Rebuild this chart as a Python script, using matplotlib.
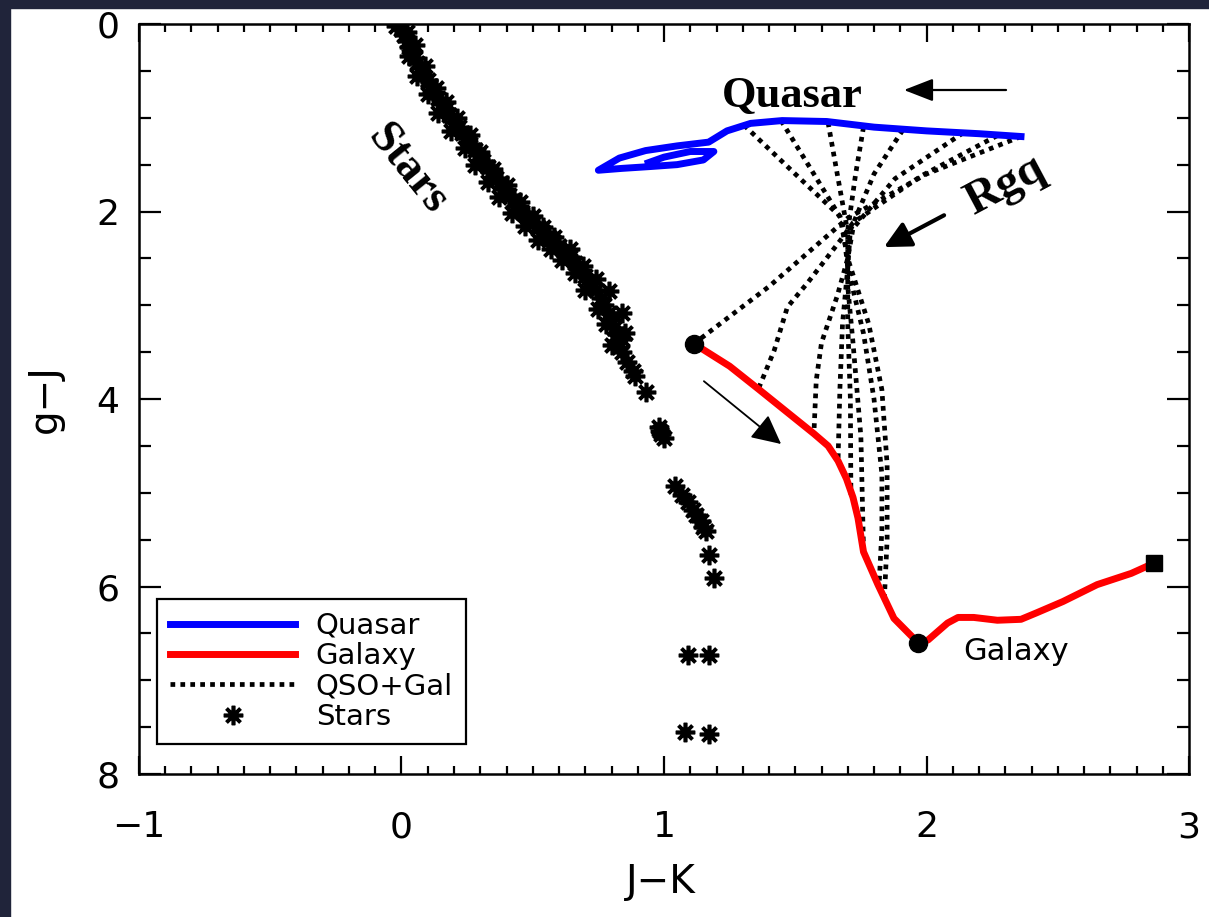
import numpy as np
import matplotlib
matplotlib.use("Agg")
import matplotlib.pyplot as plt
from matplotlib.patches import Rectangle
from matplotlib.ticker import MultipleLocator

# ---- data ----
# quasar track (blue), from low z (right) to high z (left, with the loop)
quasar_x = [2.36, 2.20, 2.00, 1.80, 1.62, 1.45, 1.33, 1.24, 1.17, 1.05, 0.93, 0.83, 0.75,
            0.84, 0.95, 1.05, 1.15, 1.19, 1.10, 1.00, 0.94]
quasar_y = [1.20, 1.17, 1.14, 1.10, 1.04, 1.03, 1.06, 1.14, 1.26, 1.30, 1.35, 1.43, 1.56,
            1.54, 1.52, 1.50, 1.45, 1.36, 1.36, 1.42, 1.48]

# galaxy track (red)
galaxy_x = [1.114, 1.25, 1.358, 1.46, 1.571, 1.625, 1.663, 1.695, 1.72, 1.739, 1.76, 1.815,
            1.876, 1.968, 2.006, 2.08, 2.12, 2.18, 2.27, 2.36, 2.42, 2.52, 2.65, 2.78, 2.867]
galaxy_y = [3.41, 3.65, 3.89, 4.12, 4.37, 4.50, 4.66, 4.85, 5.05, 5.27, 5.63, 5.98,
            6.34, 6.60, 6.57, 6.39, 6.33, 6.33, 6.36, 6.35, 6.28, 6.16, 5.98, 5.86, 5.75]
galaxy_dots_x = [1.114, 1.968]
galaxy_dots_y = [3.41, 6.60]
galaxy_end = (2.867, 5.75)

# QSO+Gal mixing curves (quasar end -> galaxy end)
mix_x = [
    [2.36, 2.00, 1.70, 1.40, 1.114],
    [2.27, 1.98, 1.72, 1.674, 1.55, 1.47, 1.42, 1.36],
    [2.14, 1.88, 1.72, 1.70, 1.66, 1.60, 1.58, 1.571],
    [1.91, 1.80, 1.71, 1.70, 1.68, 1.67, 1.663],
    [1.76, 1.73, 1.70, 1.70, 1.70, 1.71, 1.712],
    [1.625, 1.66, 1.70, 1.70, 1.72, 1.75, 1.76],
    [1.446, 1.56, 1.68, 1.70, 1.76, 1.80, 1.83, 1.83, 1.82],
    [1.305, 1.50, 1.67, 1.70, 1.78, 1.83, 1.85, 1.85, 1.84],
]
mix_y = [
    [1.20, 1.60, 2.07, 2.80, 3.41],
    [1.19, 1.62, 2.12, 2.30, 2.75, 3.02, 3.48, 3.89],
    [1.16, 1.65, 2.18, 2.50, 2.90, 3.40, 3.80, 4.37],
    [1.13, 1.60, 2.20, 2.60, 3.20, 3.90, 4.66],
    [1.10, 1.60, 2.20, 2.70, 3.20, 4.00, 5.02],
    [1.05, 1.60, 2.22, 2.80, 3.40, 4.40, 5.60],
    [1.03, 1.55, 2.10, 2.60, 3.30, 4.00, 4.80, 5.40, 5.95],
    [1.08, 1.60, 2.05, 2.50, 3.20, 3.90, 4.70, 5.50, 6.10],
]

# stars
stars_x = [-0.02, 0.00, 0.01, 0.02, 0.03, 0.04, 0.05, 0.06, 0.07, 0.08, 0.10, 0.11, 0.12, 0.14,
           0.15, 0.17, 0.18, 0.20, 0.22, 0.23, 0.25, 0.26, 0.28, 0.29, 0.31, 0.33, 0.34, 0.36,
           0.38, 0.39, 0.41, 0.43, 0.44, 0.46, 0.48, 0.50, 0.52, 0.54, 0.56, 0.58, 0.60, 0.62,
           0.64, 0.66, 0.68, 0.70, 0.72, 0.74, 0.76, 0.77, 0.79, 0.80, 0.81, 0.82, 0.82, 0.83,
           0.84, 0.86, 0.88,
           0.02, 0.05, 0.03, 0.09, 0.06, 0.13, 0.10, 0.17, 0.14, 0.21, 0.19, 0.26, 0.24, 0.30,
           0.28, 0.35, 0.33, 0.40, 0.37, 0.45, 0.42, 0.50, 0.47, 0.54, 0.52, 0.58, 0.57, 0.64,
           0.61, 0.69, 0.66, 0.74, 0.70, 0.79, 0.75, 0.84, 0.78, 0.84, 0.80, 0.85,
           0.89, 0.93, 0.98, 0.99, 1.00, 0.985, 1.04, 1.07, 1.09, 1.11, 1.12, 1.14, 1.15, 1.16,
           1.17, 1.19, 1.09, 1.17, 1.08, 1.17]
stars_y = [0.02, 0.05, 0.12, 0.18, 0.24, 0.30, 0.36, 0.42, 0.47, 0.53, 0.60, 0.66, 0.72, 0.79,
           0.85, 0.91, 0.97, 1.04, 1.10, 1.16, 1.22, 1.28, 1.34, 1.40, 1.46, 1.52, 1.58, 1.64,
           1.70, 1.76, 1.82, 1.88, 1.94, 2.00, 2.06, 2.12, 2.17, 2.22, 2.27, 2.32, 2.37, 2.42,
           2.48, 2.55, 2.62, 2.69, 2.76, 2.84, 2.92, 3.00, 3.08, 3.16, 3.24, 3.31, 3.38, 3.44,
           3.50, 3.60, 3.70,
           0.08, 0.22, 0.34, 0.45, 0.55, 0.68, 0.75, 0.83, 0.95, 1.00, 1.14, 1.18, 1.32, 1.36,
           1.50, 1.55, 1.68, 1.72, 1.84, 1.90, 2.02, 2.05, 2.15, 2.16, 2.30, 2.27, 2.40, 2.40,
           2.52, 2.58, 2.66, 2.72, 2.84, 2.85, 3.04, 3.08, 3.20, 3.36, 3.42, 3.30,
           3.75, 3.93, 4.30, 4.37, 4.42, 4.34, 4.93, 5.02, 5.10, 5.18, 5.24, 5.30, 5.36, 5.41,
           5.66, 5.91, 6.73, 6.73, 7.55, 7.57]

xticks = [-1, 0, 1, 2, 3]
yticks = [0, 2, 4, 6, 8]

# ---- figure ----
fig = plt.figure(figsize=(12.09, 9.17), dpi=100, facecolor="white")
ax = fig.add_axes([0.11497, 0.15594, 0.86849, 0.81788])

dark = "#20243a"
fig.patches.append(Rectangle((0, 1 - 8 / 917), 1, 8 / 917, transform=fig.transFigure,
                             color=dark, zorder=0))
fig.patches.append(Rectangle((0, 0), 10 / 1209, 1, transform=fig.transFigure,
                             color=dark, zorder=0))

tick_font = "DejaVu Sans"

for i in range(len(mix_x)):
    ax.plot(mix_x[i], mix_y[i], color="black", lw=3.4, dashes=(1, 1.1),
            dash_capstyle="butt", label="QSO+Gal" if i == 0 else None, zorder=2)

ax.plot(quasar_x, quasar_y, color="#0000ff", lw=5, label="Quasar", zorder=3,
        solid_joinstyle="round")
ax.plot(galaxy_x, galaxy_y, color="#ff0000", lw=5, label="Galaxy", zorder=3,
        solid_joinstyle="round")
ax.plot(galaxy_dots_x, galaxy_dots_y, "o", color="black", ms=13, zorder=4)
ax.plot([galaxy_end[0]], [galaxy_end[1]], "s", color="black", ms=11, zorder=4)

ax.plot(stars_x, stars_y, linestyle="none", marker=(8, 2, 0), ms=14, mew=2.6,
        color="black", label="Stars", zorder=3)

# annotations
serif = {"family": "Liberation Serif", "weight": "bold"}
ax.text(1.49, 0.885, "Quasar", fontdict=serif, fontsize=32, ha="center", va="baseline")
ax.annotate("", xy=(1.914, 0.704), xytext=(2.303, 0.704),
            arrowprops=dict(arrowstyle="-|>,head_length=0.9,head_width=0.35",
                            lw=1.6, color="black", mutation_scale=20,
                            shrinkA=0, shrinkB=0))
ax.text(2.30, 1.72, "Rgq", fontdict=serif, fontsize=34, ha="center", va="center",
        rotation=28, rotation_mode="anchor")
ax.annotate("", xy=(1.838, 2.38), xytext=(2.067, 2.04),
            arrowprops=dict(arrowstyle="-|>,head_length=0.8,head_width=0.4",
                            lw=3, color="black", mutation_scale=20,
                            shrinkA=0, shrinkB=0))
ax.text(0.021, 1.557, "Stars", fontdict=serif, fontsize=33, ha="center", va="center",
        rotation=-51, rotation_mode="anchor")
ax.annotate("", xy=(1.446, 4.48), xytext=(1.152, 3.81),
            arrowprops=dict(arrowstyle="-|>,head_length=0.9,head_width=0.45",
                            lw=1.3, color="black", mutation_scale=20,
                            shrinkA=0, shrinkB=0))
ax.text(2.34, 6.78, "Galaxy", family=tick_font, fontsize=22, ha="center", va="baseline")

# axes
ax.set_xlim(-1, 3)
ax.set_ylim(8, 0)
ax.set_xticks(xticks)
ax.set_yticks(yticks)
ax.set_xticklabels(["\u22121", "0", "1", "2", "3"])
ax.xaxis.set_minor_locator(MultipleLocator(0.1))
ax.yaxis.set_minor_locator(MultipleLocator(0.5))
ax.tick_params(which="both", direction="in", top=True, right=True, width=1.6,
               labelsize=26)
ax.tick_params(axis="x", which="major", length=13, pad=26)
ax.tick_params(axis="x", which="minor", length=6)
ax.tick_params(axis="y", which="major", length=16, pad=14)
ax.tick_params(axis="y", which="minor", length=8.5)
for lab in ax.get_xticklabels() + ax.get_yticklabels():
    lab.set_family(tick_font)
for s in ax.spines.values():
    s.set_linewidth(1.8)

ax.set_xlabel("J\u2212K", fontsize=28, family=tick_font)
ax.set_ylabel("g\u2212J", fontsize=28, family=tick_font)
ax.xaxis.set_label_coords(0.497, -0.118)
ax.yaxis.set_label_coords(-0.072, 0.5)

h, l = ax.get_legend_handles_labels()
order = [l.index("Quasar"), l.index("Galaxy"), l.index("QSO+Gal"), l.index("Stars")]
leg = ax.legend([h[i] for i in order], [l[i] for i in order], loc="lower left",
                bbox_to_anchor=(0.017, 0.04), prop={"family": tick_font, "size": 21},
                handlelength=4.3, handletextpad=0.7, labelspacing=0.08, borderpad=0.45,
                numpoints=1, fancybox=False, framealpha=1, edgecolor="black",
                borderaxespad=0)
leg.get_frame().set_linewidth(1.6)

fig.savefig("out.png", dpi=100, facecolor="white")
